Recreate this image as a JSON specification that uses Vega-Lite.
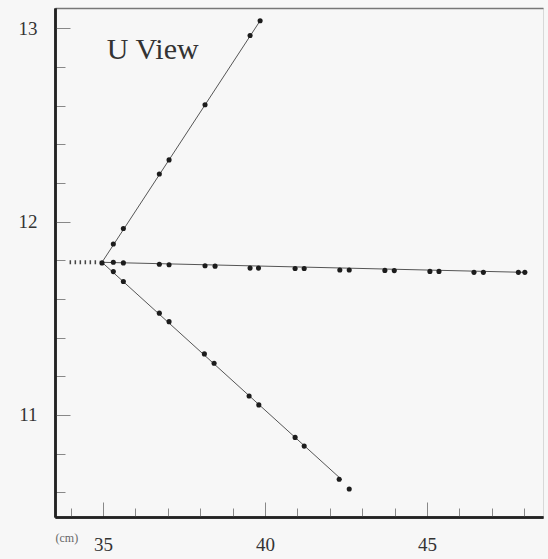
{
  "$schema": "https://vega.github.io/schema/vega-lite/v6.json",
  "width": 488,
  "height": 509,
  "autosize": {"type": "none"},
  "padding": {"left": 55, "top": 8, "right": 5, "bottom": 42},
  "background": "#f7f7f7",
  "config": {
    "font": "Liberation Serif",
    "view": {"stroke": "#d8d8d8", "strokeWidth": 1},
    "axis": {"grid": false, "title": null, "labelFlush": false, "labelOverlap": false, "tickColor": "#888", "tickWidth": 1, "domainColor": "#222", "domainWidth": 2.5, "labelFontSize": 19, "labelColor": "#333", "labelFont": "Liberation Serif"}
  },
  "datasets": {
    "hits": [
      {"track": "up", "x": 35.32, "y": 11.885},
      {"track": "up", "x": 35.63, "y": 11.965},
      {"track": "up", "x": 36.74, "y": 12.247},
      {"track": "up", "x": 37.04, "y": 12.32},
      {"track": "up", "x": 38.15, "y": 12.605},
      {"track": "up", "x": 39.54, "y": 12.964},
      {"track": "up", "x": 39.85, "y": 13.04},
      {"track": "flat", "x": 34.97, "y": 11.787},
      {"track": "flat", "x": 35.32, "y": 11.79},
      {"track": "flat", "x": 35.63, "y": 11.787},
      {"track": "flat", "x": 36.74, "y": 11.78},
      {"track": "flat", "x": 37.04, "y": 11.777},
      {"track": "flat", "x": 38.15, "y": 11.772},
      {"track": "flat", "x": 38.46, "y": 11.77},
      {"track": "flat", "x": 39.54, "y": 11.76},
      {"track": "flat", "x": 39.8, "y": 11.76},
      {"track": "flat", "x": 40.93, "y": 11.758},
      {"track": "flat", "x": 41.21, "y": 11.758},
      {"track": "flat", "x": 42.31, "y": 11.75},
      {"track": "flat", "x": 42.6, "y": 11.75},
      {"track": "flat", "x": 43.7, "y": 11.748},
      {"track": "flat", "x": 43.99, "y": 11.747},
      {"track": "flat", "x": 45.09, "y": 11.743},
      {"track": "flat", "x": 45.37, "y": 11.743},
      {"track": "flat", "x": 46.45, "y": 11.738},
      {"track": "flat", "x": 46.74, "y": 11.738},
      {"track": "flat", "x": 47.82, "y": 11.738},
      {"track": "flat", "x": 48.02, "y": 11.738},
      {"track": "down", "x": 35.32, "y": 11.742},
      {"track": "down", "x": 35.63, "y": 11.691},
      {"track": "down", "x": 36.74, "y": 11.527},
      {"track": "down", "x": 37.04, "y": 11.483},
      {"track": "down", "x": 38.13, "y": 11.316},
      {"track": "down", "x": 38.43, "y": 11.268},
      {"track": "down", "x": 39.51, "y": 11.098},
      {"track": "down", "x": 39.81, "y": 11.052},
      {"track": "down", "x": 40.93, "y": 10.884},
      {"track": "down", "x": 41.21, "y": 10.839},
      {"track": "down", "x": 42.29, "y": 10.667},
      {"track": "down", "x": 42.6, "y": 10.617}
    ],
    "fits": [
      {"track": "up", "step": 0, "x": 34.97, "y": 11.79},
      {"track": "up", "step": 1, "x": 39.85, "y": 13.04},
      {"track": "flat", "step": 0, "x": 34.97, "y": 11.79},
      {"track": "flat", "step": 1, "x": 48.02, "y": 11.738},
      {"track": "down", "step": 0, "x": 34.97, "y": 11.79},
      {"track": "down", "step": 1, "x": 42.37, "y": 10.665}
    ],
    "incoming": [
      {"x": 33.97, "y": 11.79},
      {"x": 34.9, "y": 11.79}
    ],
    "labels": [
      {"text": "U View", "x": 35.12, "y": 12.84}
    ]
  },
  "layer": [
    {
      "data": {"name": "incoming"},
      "mark": {"type": "line", "color": "#444", "strokeWidth": 4, "strokeDash": [1.5, 3.5]},
      "encoding": {
        "x": {
          "field": "x", "type": "quantitative",
          "scale": {"domain": [33.52, 48.58], "nice": false, "zero": false},
          "axis": {"orient": "top", "ticks": false, "labels": false, "domainColor": "#777", "domainWidth": 1.5}
        },
        "y": {
          "field": "y", "type": "quantitative",
          "scale": {"domain": [10.472, 13.106], "nice": false, "zero": false},
          "axis": {
            "orient": "left",
            "values": [10.6, 10.8, 11.2, 11.4, 11.6, 11.8, 12.2, 12.4, 12.6, 12.8],
            "labels": false,
            "tickSize": -10
          }
        }
      }
    },
    {
      "data": {"name": "fits"},
      "mark": {"type": "line", "color": "#555", "strokeWidth": 1},
      "encoding": {
        "x": {
          "field": "x", "type": "quantitative",
          "scale": {"domain": [33.52, 48.58], "nice": false, "zero": false},
          "axis": {
            "orient": "bottom",
            "values": [35, 40, 45],
            "tickSize": -15,
            "labelPadding": 33,
            "title": "(cm)",
            "titleFontSize": 12,
            "titleFontWeight": "normal",
            "titleColor": "#666",
            "titleX": 0,
            "titleY": 24,
            "titleAlign": "left",
            "titleBaseline": "alphabetic"
          }
        },
        "y": {
          "field": "y", "type": "quantitative",
          "scale": {"domain": [10.472, 13.106], "nice": false, "zero": false},
          "axis": {
            "orient": "left",
            "values": [11, 12, 13],
            "format": "d",
            "tickSize": -15,
            "labelPadding": 33
          }
        },
        "detail": {"field": "track"},
        "order": {"field": "step"}
      }
    },
    {
      "data": {"name": "hits"},
      "mark": {"type": "circle", "color": "#1c1c1c", "size": 26, "opacity": 1},
      "encoding": {
        "x": {
          "field": "x", "type": "quantitative",
          "scale": {"domain": [33.52, 48.58], "nice": false, "zero": false},
          "axis": {
            "orient": "bottom",
            "values": [34, 36, 37, 38, 39, 41, 42, 43, 44, 46, 47, 48],
            "labels": false,
            "tickSize": -9
          }
        },
        "y": {"field": "y", "type": "quantitative", "scale": {"domain": [10.472, 13.106], "nice": false, "zero": false}, "axis": null}
      }
    },
    {
      "data": {"name": "labels"},
      "mark": {"type": "text", "align": "left", "baseline": "alphabetic", "fontSize": 30, "color": "#333", "font": "Liberation Serif"},
      "encoding": {
        "x": {"field": "x", "type": "quantitative", "scale": {"domain": [33.52, 48.58], "nice": false, "zero": false}, "axis": null},
        "y": {"field": "y", "type": "quantitative", "scale": {"domain": [10.472, 13.106], "nice": false, "zero": false}, "axis": null},
        "text": {"field": "text"}
      }
    }
  ],
  "resolve": {"axis": {"x": "independent", "y": "independent"}}
}
